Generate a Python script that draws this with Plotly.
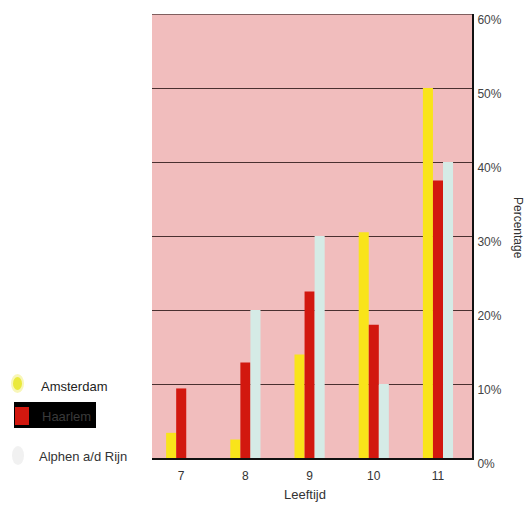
import plotly.graph_objects as go

# Data: share of children per age, by city (percent)
ages = [7, 8, 9, 10, 11]
amsterdam = [3.4, 2.5, 14.0, 30.5, 50.0]
haarlem = [9.4, 12.9, 22.5, 18.0, 37.5]
alphen = [0.0, 20.0, 30.0, 10.0, 40.0]
series_names = ["Amsterdam", "Haarlem", "Alphen a/d Rijn"]
y_ticks = [0, 10, 20, 30, 40, 50, 60]

W, H = 527, 505
ML, MR, MT, MB = 152, 55, 14, 47
PW, PH = W - ML - MR, H - MT - MB

FONT = "Liberation Sans, Arial, Helvetica, sans-serif"
YELLOW = "#f9e41a"
RED = "#d2180f"
PALE = "#d5ebe6"
PINK = "#f1bdbd"


def px(x):
    return (x - ML) / PW


def py(y):
    return (H - MB - y) / PH


fig = go.Figure()
for name, vals, col in zip(series_names, [amsterdam, haarlem, alphen], [YELLOW, RED, PALE]):
    fig.add_trace(go.Bar(x=ages, y=vals, name=name, marker=dict(color=col, line=dict(width=0))))

shapes = [
    # top border of the plot area
    dict(type="line", xref="paper", yref="y", x0=0, x1=1, y0=60, y1=60,
         line=dict(color="#5a4040", width=1.5)),
    # legend: Amsterdam swatch (soft yellow blob)
    dict(type="circle", xref="paper", yref="paper", x0=px(11), x1=px(24), y0=py(393), y1=py(374),
         fillcolor="#f4f08a", line=dict(width=0), opacity=0.6, layer="above"),
    dict(type="circle", xref="paper", yref="paper", x0=px(13), x1=px(22), y0=py(390), y1=py(377),
         fillcolor="#e8e830", line=dict(width=0), opacity=0.9, layer="above"),
    # legend: Haarlem black box with red swatch
    dict(type="rect", xref="paper", yref="paper", x0=px(14), x1=px(96), y0=py(428), y1=py(402),
         fillcolor="#000000", line=dict(width=0), layer="above"),
    dict(type="rect", xref="paper", yref="paper", x0=px(15), x1=px(29), y0=py(425), y1=py(407),
         fillcolor=RED, line=dict(width=0), layer="above"),
    # legend: Alphen a/d Rijn pale swatch
    dict(type="circle", xref="paper", yref="paper", x0=px(12), x1=px(24), y0=py(465), y1=py(446),
         fillcolor="#eeeeee", line=dict(width=0), opacity=0.8, layer="above"),
]

annotations = [
    dict(text="Amsterdam", xref="paper", yref="paper", x=px(39), y=py(386), xanchor="left",
         yanchor="middle", showarrow=False, font=dict(family=FONT, size=13, color="#222222")),
    dict(text="Haarlem", xref="paper", yref="paper", x=px(40), y=py(416), xanchor="left",
         yanchor="middle", showarrow=False, font=dict(family=FONT, size=13, color="#3a3a3a")),
    dict(text="Alphen a/d Rijn", xref="paper", yref="paper", x=px(37), y=py(456), xanchor="left",
         yanchor="middle", showarrow=False, font=dict(family=FONT, size=13, color="#333333")),
    dict(text="Percentage", xref="paper", yref="paper", x=px(518), y=py(228), xanchor="center",
         yanchor="middle", textangle=90, showarrow=False,
         font=dict(family=FONT, size=12, color="#333333")),
    dict(text="Leeftijd", xref="paper", yref="paper", x=px(305), y=py(495), xanchor="center",
         yanchor="middle", showarrow=False, font=dict(family=FONT, size=13, color="#333333")),
]

fig.update_layout(
    width=W, height=H,
    margin=dict(l=ML, r=MR, t=MT, b=MB, pad=0, autoexpand=False),
    paper_bgcolor="white",
    plot_bgcolor=PINK,
    barmode="group",
    bargap=0.53,
    bargroupgap=0,
    showlegend=False,
    shapes=shapes,
    annotations=annotations,
    font=dict(family=FONT, size=12, color="#333333"),
    xaxis=dict(range=[6.545, 11.53], tickvals=ages, ticktext=[str(a) for a in ages],
               showgrid=False, zeroline=False, showline=True, linecolor="#111111", linewidth=2,
               ticks="", tickfont=dict(size=12, color="#333333"), ticklabelstandoff=6,
               automargin=False),
    yaxis=dict(range=[0, 60], side="right", tickvals=y_ticks,
               ticktext=[f"{v}%" for v in y_ticks],
               showgrid=True, gridcolor="#4a3030", gridwidth=1.4, zeroline=False,
               showline=True, linecolor="#111111", linewidth=2, ticks="",
               tickfont=dict(size=12, color="#444444"), ticklabelshift=6, ticklabelstandoff=1,
               automargin=False),
)

fig.write_html("out.html")
